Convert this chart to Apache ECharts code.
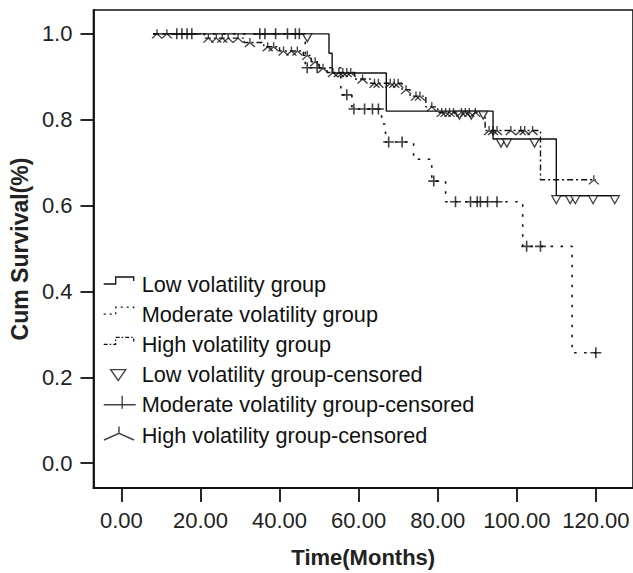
<!DOCTYPE html>
<html><head><meta charset="utf-8">
<script src="https://cdn.jsdelivr.net/npm/echarts@6/dist/echarts.min.js"></script>
<style>html,body{margin:0;padding:0;background:#fff}#c{width:633px;height:573px}</style>
</head><body><div id="c"></div>
<script>
// ---- data ----
const xTicks = [0, 20, 40, 60, 80, 100, 120];
const yTicks = [0, 0.2, 0.4, 0.6, 0.8, 1.0];
const seriesNames = ['Low volatility group', 'Moderate volatility group', 'High volatility group',
  'Low volatility group-censored', 'Moderate volatility group-censored', 'High volatility group-censored'];

const lowTime = [8, 52.5, 53.3, 67, 94, 110, 125.5];
const lowSurv = [1.0, 0.955, 0.909, 0.82, 0.755, 0.623, 0.623];

const modTime = [8, 46.5, 55.5, 58.3, 65.8, 66.8, 73.9, 78.5, 82, 101.5, 114, 120.5];
const modSurv = [1.0, 0.921, 0.858, 0.825, 0.79, 0.748, 0.708, 0.657, 0.609, 0.505, 0.257, 0.257];

const highTime = [8, 21, 31, 36, 40, 46, 48, 50, 52, 59, 63, 71, 73, 77, 80, 92, 106, 120];
const highSurv = [1.0, 0.99, 0.98, 0.97, 0.96, 0.95, 0.935, 0.92, 0.91, 0.895, 0.885, 0.87, 0.855, 0.83, 0.817, 0.775, 0.66, 0.66];

const lowCensored = [[47,1.0],[85.5,0.82],[88.5,0.82],[91.5,0.82],[96,0.755],[97.5,0.755],[104.5,0.755],
  [110,0.623],[113.5,0.623],[114.8,0.623],[119.3,0.623],[124.8,0.623]];
const modCensored = [[14,1.0],[15.3,1.0],[16.6,1.0],[17.8,1.0],[35,1.0],[36.3,1.0],[39,1.0],[42,1.0],[44,1.0],[45,1.0],
  [47,0.921],[49.5,0.921],[57,0.858],[58.8,0.825],[61.5,0.825],[63.5,0.825],[65,0.825],[67.6,0.748],[71,0.748],
  [79,0.657],[84.5,0.609],[88.3,0.609],[90,0.609],[90.8,0.609],[92.6,0.609],[95,0.609],[102.5,0.505],[106,0.505],[120,0.257]];
const highCensored = [[9,1.0],[11.5,1.0],[22,0.99],[24,0.99],[25.5,0.99],[27,0.99],[29.5,0.99],[32.5,0.98],
  [37,0.97],[38.5,0.97],[41,0.96],[43,0.96],[44.5,0.96],[47,0.95],[49,0.935],[51,0.92],[53.5,0.91],[55,0.91],
  [56,0.91],[57,0.91],[58,0.91],[61,0.895],[64,0.885],[65,0.885],[68,0.885],[69,0.885],[70,0.885],[72,0.87],
  [74.5,0.855],[75.5,0.855],[78.5,0.83],[81,0.817],[82,0.817],[83,0.817],[84,0.817],[86,0.817],[87,0.817],
  [88,0.817],[89.5,0.817],[93,0.775],[94,0.775],[95,0.775],[98.5,0.775],[101,0.775],[102,0.775],[104,0.775],[119.5,0.66]];

// ---- styling ----
const INK = '#111';
const FONT = "'Liberation Sans', Arial, sans-serif";
const dotted = [2.5, 7.5];
const dashDot = [6, 3, 2, 3];
const plusSym = 'path://M0,5L10,5M5,0L5,10';
const lambdaSym = 'path://M5,0L5,5M0,10L5,5L10,10';
const triSym = 'path://M0,0L10,0L5,8.66Z';
const BOX = 'M0,0M35,18';
const stepIcon = 'path://' + BOX + 'M2,9L14,9L14,2L32,2L32,6';
const triIcon = 'path://' + BOX + 'M9,4L24,4L16.5,15Z';
const plusIcon = 'path://' + BOX + 'M2,9L34,9M20.5,0L20.5,13';
const lambdaIcon = 'path://' + BOX + 'M17.3,0.5L17.3,7.3M2.3,14L17.3,7.3L32.3,14';

const pair = (ts, ss) => ts.map((t, i) => [t, ss[i]]);
const clear = 'rgba(0,0,0,0)';

const chart = echarts.init(document.getElementById('c'), null, {renderer: 'svg'});
chart.setOption({
  animation: false,
  backgroundColor: '#fff',
  textStyle: {fontFamily: FONT},
  grid: {left: 93, top: 10, right: 0, bottom: 82, show: true, borderColor: INK, borderWidth: 1.6, backgroundColor: clear},
  legend: {
    orient: 'vertical', left: 101, top: 273, padding: 0,
    itemWidth: 35, itemHeight: 18, itemGap: 8.2, selectedMode: false,
    textStyle: {fontFamily: FONT, fontSize: 21.7, color: INK, lineHeight: 22},
    data: [
      {name: seriesNames[0], icon: stepIcon, itemStyle: {color: clear, borderColor: INK, borderWidth: 1.3, borderType: 'solid'}},
      {name: seriesNames[1], icon: stepIcon, itemStyle: {color: clear, borderColor: INK, borderWidth: 1.3, borderType: [2, 4]}},
      {name: seriesNames[2], icon: stepIcon, itemStyle: {color: clear, borderColor: INK, borderWidth: 1.3, borderType: [4, 2, 1.5, 2]}},
      {name: seriesNames[3], icon: triIcon, itemStyle: {color: '#fff', borderColor: INK, borderWidth: 1.4, borderType: 'solid'}},
      {name: seriesNames[4], icon: plusIcon, itemStyle: {color: clear, borderColor: INK, borderWidth: 1.4, borderType: 'solid'}},
      {name: seriesNames[5], icon: lambdaIcon, itemStyle: {color: clear, borderColor: INK, borderWidth: 1.4, borderType: 'solid'}}
    ]
  },
  xAxis: {
    type: 'value', min: -7.07, max: 129.4,
    name: 'Time(Months)', nameLocation: 'middle', nameGap: 58,
    nameTextStyle: {fontFamily: FONT, fontSize: 22, fontWeight: 'bold', color: '#222'},
    axisLine: {show: true, onZero: false, lineStyle: {color: INK, width: 1.8}},
    axisTick: {show: true, inside: false, length: 14, customValues: xTicks, lineStyle: {color: INK, width: 1.8}},
    axisLabel: {customValues: xTicks, margin: 21, fontFamily: FONT, fontSize: 22, color: '#222',
      formatter: v => v.toFixed(2)},
    splitLine: {show: false}
  },
  yAxis: {
    type: 'value', min: -0.0579, max: 1.0556,
    name: 'Cum Survival(%)', nameLocation: 'middle', nameGap: 56.5,
    nameTextStyle: {fontFamily: FONT, fontSize: 23, fontWeight: 'bold', color: '#222'},
    axisLine: {show: true, onZero: false, lineStyle: {color: INK, width: 1.8}},
    axisTick: {show: true, inside: false, length: 13, customValues: yTicks, lineStyle: {color: INK, width: 1.8}},
    axisLabel: {customValues: yTicks, margin: 21, fontFamily: FONT, fontSize: 22, color: '#222',
      formatter: v => v.toFixed(1)},
    splitLine: {show: false}
  },
  series: [
    {name: seriesNames[0], type: 'line', step: 'end', symbol: 'none', data: pair(lowTime, lowSurv),
      lineStyle: {color: INK, width: 1.4, type: 'solid'}, itemStyle: {color: INK}},
    {name: seriesNames[1], type: 'line', step: 'end', symbol: 'none', data: pair(modTime, modSurv),
      lineStyle: {color: INK, width: 1.6, type: dotted}, itemStyle: {color: INK}},
    {name: seriesNames[2], type: 'line', step: 'end', symbol: 'none', data: pair(highTime, highSurv),
      lineStyle: {color: INK, width: 1.4, type: dashDot}, itemStyle: {color: INK}},
    {name: seriesNames[3], type: 'scatter', data: lowCensored, symbol: triSym, symbolSize: [9, 8], symbolOffset: [0, 4],
      itemStyle: {color: '#fff', borderColor: INK, borderWidth: 1.3}, z: 4},
    {name: seriesNames[4], type: 'scatter', data: modCensored, symbol: plusSym, symbolSize: [11, 11],
      itemStyle: {color: clear, borderColor: INK, borderWidth: 1.6}, z: 4},
    {name: seriesNames[5], type: 'scatter', data: highCensored, symbol: lambdaSym, symbolSize: [10, 9],
      itemStyle: {color: clear, borderColor: INK, borderWidth: 1.3}, z: 4}
  ]
});
</script>
</body></html>
